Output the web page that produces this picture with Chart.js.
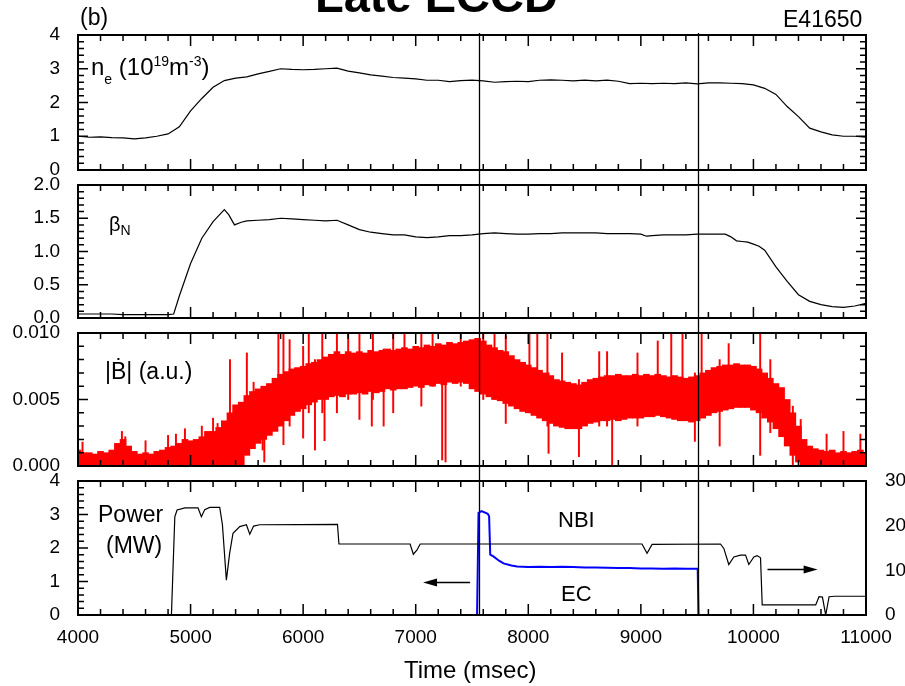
<!DOCTYPE html>
<html>
<head>
<meta charset="utf-8">
<script src="https://cdn.jsdelivr.net/npm/chart.js@4.4.1/dist/chart.umd.min.js"></script>
<style>
  html, body { margin:0; padding:0; background:#fff; }
  body { width:905px; height:686px; position:relative; overflow:hidden; font-family:'Liberation Sans', Arial, sans-serif; color:#000; }
  canvas { position:absolute; left:0; }
  .lbl { position:absolute; line-height:1; white-space:nowrap; }
  .sb, .sp { font-size:14px; position:relative; }
</style>
</head>
<body>
<canvas id="c1" width="905" height="220" style="top:0px"></canvas>
<canvas id="c2" width="905" height="218" style="top:150px"></canvas>
<canvas id="c3" width="905" height="218" style="top:298px"></canvas>
<canvas id="c4" width="905" height="240" style="top:446px"></canvas>

<div class="lbl" style="left:315px;top:-28px;font-size:47px;font-weight:bold">Late ECCD</div>
<div class="lbl" style="left:80px;top:6px;font-size:23px">(b)</div>
<div class="lbl" style="left:783px;top:8px;font-size:23px">E41650</div>
<div class="lbl" style="left:91px;top:55px;font-size:24px">n<span class="sb" style="top:9px">e</span> (10<span class="sp" style="top:-9px">19</span>m<span class="sp" style="top:-9px">-3</span>)</div>
<div class="lbl" style="left:109px;top:214px;font-size:20px">&beta;<span class="sb" style="top:4px">N</span></div>
<div class="lbl" style="left:105px;top:360px;font-size:23px;font-family:'Liberation Sans','DejaVu Sans',sans-serif">|&#x1E02;| (a.u.)</div>
<div class="lbl" style="left:98px;top:503px;font-size:23px">Power</div>
<div class="lbl" style="left:106px;top:534px;font-size:23px">(MW)</div>
<div class="lbl" style="left:558px;top:509px;font-size:22px">NBI</div>
<div class="lbl" style="left:561px;top:583px;font-size:22px">EC</div>
<div class="lbl" style="left:404px;top:658px;font-size:24px">Time (msec)</div>

<script>
// time axis
const xMin = 4000;
const xMax = 11000;
const markTimes = [7560, 9510];

// n_e (1e19 m^-3), every 100 ms from 4000
const neVal = [1.00,0.97,0.98,0.96,0.95,0.92,0.95,1.00,1.07,1.28,
  1.75,2.12,2.45,2.65,2.72,2.76,2.85,2.92,3.00,2.98,
  2.97,2.98,3.00,3.02,2.93,2.88,2.82,2.78,2.74,2.72,
  2.70,2.66,2.66,2.62,2.65,2.66,2.64,2.60,2.62,2.63,
  2.62,2.66,2.67,2.66,2.64,2.66,2.64,2.66,2.63,2.56,
  2.57,2.56,2.57,2.56,2.58,2.55,2.58,2.58,2.57,2.56,
  2.52,2.42,2.24,1.88,1.58,1.24,1.13,1.04,1.00,1.00,
  0.97];

// beta_N
const betaTime = [4000,4100,4200,4300,4400,4500,4600,4700,4800,4850,4900,5000,5100,5200,5300,5340,5390,5450,5500,
  5600,5700,5800,5900,6000,6100,6200,6300,6400,6500,6600,6700,6800,6900,7000,7100,7200,7300,7400,7500,
  7600,7700,7800,7900,8000,8100,8200,8300,8400,8500,8600,8700,8800,8900,9000,
  9050,9100,9200,9300,9400,9500,9600,9700,9750,9800,9850,9900,9950,10000,10050,10100,10200,10300,10400,10500,10600,10700,10800,10900,11000];
const betaVal = [0.06,0.06,0.06,0.06,0.05,0.05,0.05,0.05,0.05,0.06,0.33,0.82,1.20,1.45,1.63,1.55,1.40,1.44,1.46,
  1.47,1.48,1.50,1.49,1.48,1.47,1.46,1.47,1.40,1.33,1.29,1.27,1.25,1.25,1.22,1.21,1.22,1.24,1.24,1.25,
  1.27,1.28,1.27,1.26,1.26,1.27,1.27,1.28,1.28,1.28,1.28,1.27,1.27,1.27,1.26,
  1.23,1.24,1.25,1.25,1.25,1.26,1.26,1.26,1.26,1.22,1.16,1.15,1.14,1.11,1.08,1.02,0.77,0.55,0.35,0.25,0.20,0.17,0.16,0.18,0.22];

// |dB/dt| band (units of 1e-3), every 50 ms from 4000: upper and lower edge of the dense trace
const bdotHi = [1.2,1.0,1.0,0.9,1.1,1.0,1.2,1.7,2.0,1.5,
  1.1,0.9,1.0,0.9,1.1,1.2,1.4,1.5,1.7,2.0,
  1.9,2.0,2.2,2.6,2.6,2.9,3.4,4.0,4.6,4.8,
  5.3,5.6,5.8,6.0,6.2,6.6,6.9,7.1,7.3,7.4,
  7.5,7.7,7.8,8.0,8.2,8.4,8.6,8.4,8.6,8.5,
  8.6,8.5,8.7,8.6,8.7,8.8,8.7,8.8,8.9,8.8,
  9.0,8.9,9.1,9.0,9.2,9.1,9.3,9.2,9.3,9.4,
  9.5,9.6,9.4,9.1,8.9,8.7,8.6,8.3,8.0,7.8,
  7.6,7.4,7.2,7.0,6.8,6.5,6.4,6.3,6.2,6.1,
  6.3,6.5,6.6,6.7,6.8,6.8,6.9,6.8,6.8,6.9,
  6.8,6.9,6.8,6.9,6.8,6.7,6.8,6.7,6.6,6.7,
  6.8,7.0,7.2,7.4,7.5,7.6,7.6,7.7,7.6,7.6,
  7.5,7.3,7.0,6.6,6.2,5.9,5.0,4.0,3.0,2.0,
  1.5,1.3,1.2,1.1,1.2,1.0,1.1,1.0,1.1,1.2,
  1.0];
const bdotLo = [0,0,0,0,0,0,0,0,0,0,
  0,0,0,0,0,0,0,0,0,0,
  0,0,0,0,0,0,0,0,0,0.1,
  0.8,1.3,1.7,2.0,2.3,2.6,3.0,3.4,3.8,4.1,
  4.3,4.6,4.8,5.0,5.0,5.2,5.3,5.2,5.4,5.4,
  5.5,5.4,5.6,5.5,5.6,5.8,5.7,5.8,5.8,5.9,
  6.0,5.9,6.1,6.0,6.2,6.1,6.3,6.2,6.3,6.2,
  5.8,5.6,5.4,5.2,5.0,4.9,4.7,4.5,4.3,4.1,
  4.0,3.8,3.6,3.4,3.2,3.0,2.9,2.8,2.8,2.8,
  3.0,3.2,3.3,3.4,3.4,3.5,3.4,3.5,3.6,3.6,
  3.6,3.7,3.7,3.8,3.7,3.6,3.5,3.4,3.4,3.3,
  3.4,3.6,3.8,4.0,4.1,4.2,4.3,4.4,4.4,4.4,
  4.2,4.0,3.6,3.3,2.8,2.2,1.5,0.8,0.3,0,
  0,0,0,0,0,0,0,0,0,0,
  0];
// isolated spikes (units of 1e-3)
const spikeT  = [4040,4390,4420,4600,4800,4870,4950,5100,5200,5240,5350,5500,5560,5640,5655,5780,5825,5880,6000,6050,6105,6170,6190,6300,6400,6500,6610,6620,6715,6800,6900,7050,7150,7235,7265,7400,7600,7700,7800,8010,8080,8170,8180,8300,8450,8630,8700,8745,8970,9150,9270,9370,9480,9540,9700,9780,10060,10150,10350,10420,10650,10800,10950];
const spikeLo = [0,0,0,0,0,0,0,0,0,0,0,1,1.5,1.2,0.3,3,1.6,3,2.1,4,1.2,4,1.9,4,5,3.5,3.0,5,3.0,4,6,4.5,6,0.45,0.3,6,5,5,3.2,4,4,3,0.95,3,0.7,3,3,0,3,4,4,4,1.85,4,1.5,5,0.8,2.5,0,0,0,0,0];
const spikeHi = [1.8,2.6,2.2,1.9,2.3,2.4,2.8,3.0,3.6,3.2,8.0,8.5,6.3,5,5,10,10,9.5,9,10,8,10,8,10,10,10,8.5,10,8.8,10,10,10,10,9,9,10,10,10,9.8,10,10,10,7,8.5,6.5,8.6,8.6,6.5,8.5,9.4,10,10,7,10,8,9.2,10,8,4.5,3.5,2.4,2.6,2.4];

// NBI power (right axis units)
const nbiTime = [4000,4830,4860,4880,4950,5066,5096,5126,5170,5259,5283,5318,5347,5377,5437,5496,5526,5560,5615,6305,6318,6950,6979,7010,7040,9010,9055,9100,9707,9737,9781,9826,9885,9930,9959,10004,10033,10063,10078,10553,10583,10613,10642,10672,10720,11000];
const nbiVal  = [0,0,22,23.5,24,24,22,23.6,24.1,24.1,20.2,7.8,13.8,18.3,19.8,20.2,18.1,19.9,20.2,20.3,15.9,15.9,13.6,14.5,15.9,15.9,13.8,15.8,15.9,14.9,11.3,13.0,13.4,13.4,11.3,13.0,13.3,12.8,2.25,2.25,4.1,4.0,0,4.1,4.2,4.2];

// EC power (MW, left axis)
const ecTime = [4000,7545,7558,7585,7640,7652,7662,7690,7740,7780,7850,7900,8000,8100,8200,8300,8400,8500,8600,8700,8800,8900,9000,9100,9200,9300,9400,9505,9512,11000];
const ecVal  = [0,0,3.05,3.1,3.02,2.95,1.8,1.75,1.62,1.54,1.48,1.45,1.43,1.44,1.43,1.44,1.43,1.42,1.42,1.41,1.40,1.40,1.39,1.39,1.38,1.39,1.38,1.38,0,0];

// arrows pointing to the axis each trace belongs to
const arrowLeft = { from: 7483, to: 7065, y: 0.99 };
const arrowRight = { from: 10125, to: 10570, y: 10.2 };

Chart.defaults.font.family = "'Liberation Sans', Arial, sans-serif";
Chart.defaults.color = '#000';
Chart.defaults.animation = false;
Chart.defaults.plugins.legend.display = false;
Chart.defaults.plugins.tooltip.enabled = false;

const framePlugin = {
	id: 'frame',
	afterDatasetsDraw(chart, args, o) {
		const { ctx, chartArea: a, scales } = chart;
		const x = scales.x, y = scales.y;
		ctx.save();
		ctx.strokeStyle = '#000';
		ctx.lineWidth = 1.5;
		ctx.beginPath();
		for (let t = xMin; t <= xMax; t += 200) {
			const px = x.getPixelForValue(t);
			const len = t % 1000 === 0 ? 11 : 6;
			ctx.moveTo(px, a.top); ctx.lineTo(px, a.top + len);
			ctx.moveTo(px, a.bottom); ctx.lineTo(px, a.bottom - len);
		}
		const n = Math.round((y.max - y.min) / o.minor);
		for (let i = 0; i <= n; i++) {
			const py = y.getPixelForValue(y.min + i * o.minor);
			const len = i % o.every === 0 ? 10 : 6;
			ctx.moveTo(a.left, py); ctx.lineTo(a.left + len, py);
			if (o.right) { ctx.moveTo(a.right, py); ctx.lineTo(a.right - len, py); }
		}
		ctx.stroke();
		ctx.lineWidth = 1.3;
		ctx.beginPath();
		for (const t of markTimes) {
			const px = Math.round(x.getPixelForValue(t)) + 0.5;
			ctx.moveTo(px, a.top - (o.up || 0));
			ctx.lineTo(px, a.bottom + (o.down || 0));
		}
		ctx.stroke();
		ctx.lineWidth = 2;
		ctx.strokeRect(a.left, a.top, a.right - a.left, a.bottom - a.top);
		ctx.restore();
	}
};

const arrowPlugin = {
	id: 'arrows',
	afterDatasetsDraw(chart) {
		const { ctx, scales } = chart;
		const draw = (ar, ys) => {
			const x0 = scales.x.getPixelForValue(ar.from);
			const x1 = scales.x.getPixelForValue(ar.to);
			const py = Math.round(ys.getPixelForValue(ar.y)) + 0.5;
			const dir = Math.sign(x1 - x0);
			ctx.beginPath();
			ctx.moveTo(x0, py); ctx.lineTo(x1 - dir * 10, py);
			ctx.stroke();
			ctx.beginPath();
			ctx.moveTo(x1, py);
			ctx.lineTo(x1 - dir * 14, py - 4);
			ctx.lineTo(x1 - dir * 14, py + 4);
			ctx.closePath();
			ctx.fill();
		};
		ctx.save();
		ctx.strokeStyle = '#000';
		ctx.fillStyle = '#000';
		ctx.lineWidth = 1.5;
		draw(arrowLeft, scales.y);
		draw(arrowRight, scales.y2);
		ctx.restore();
	}
};

function xAxis(show) {
	const ax = {
		type: 'linear', min: xMin, max: xMax, display: show, offset: false,
		grid: { display: false }, border: { display: false },
		ticks: { stepSize: 1000, padding: 3, maxRotation: 0, autoSkip: false, font: { size: 19 }, callback: v => String(v) }
	};
	if (show) ax.afterFit = s => { s.height = 71; };
	return ax;
}

function yAxis(min, max, step, digits) {
	return {
		min: min, max: max,
		grid: { display: false }, border: { display: false },
		ticks: { stepSize: step, padding: 10, autoSkip: false, font: { size: 19 }, callback: v => v.toFixed(digits) },
		afterFit(s) { s.width = 78; }
	};
}

const linePad = { top: 35, bottom: 50, left: 0, right: 39 };

function pts(ts, vs) { return ts.map((t, i) => ({ x: t, y: vs[i] })); }

new Chart(document.getElementById('c1'), {
	type: 'line',
	data: { datasets: [{ data: neVal.map((v, i) => ({ x: xMin + 100 * i, y: v })), borderColor: '#000', borderWidth: 1.2, pointRadius: 0 }] },
	options: {
		responsive: false, layout: { padding: linePad },
		scales: { x: xAxis(false), y: yAxis(0, 4, 1, 0) },
		plugins: { frame: { minor: 0.2, every: 5, right: true, up: 2, down: 15 } }
	},
	plugins: [framePlugin]
});

new Chart(document.getElementById('c2'), {
	type: 'line',
	data: { datasets: [{ data: pts(betaTime, betaVal), borderColor: '#000', borderWidth: 1.2, pointRadius: 0 }] },
	options: {
		responsive: false, layout: { padding: linePad },
		scales: { x: xAxis(false), y: yAxis(0, 2, 0.5, 1) },
		plugins: { frame: { minor: 0.1, every: 5, right: true, up: 0, down: 15 } }
	},
	plugins: [framePlugin]
});

new Chart(document.getElementById('c3'), {
	type: 'bar',
	data: { datasets: [
		{ data: bdotHi.map((h, i) => ({ x: xMin + 50 * i, y: [bdotLo[i] / 1000, h / 1000] })), backgroundColor: '#ff0000', barThickness: 6, grouped: false, clip: 0 },
		{ data: spikeT.map((t, i) => ({ x: t, y: [spikeLo[i] / 1000, spikeHi[i] / 1000] })), backgroundColor: '#ff0000', barThickness: 1.3, grouped: false, clip: 0 }
	] },
	options: {
		responsive: false, layout: { padding: linePad },
		scales: { x: xAxis(false), y: yAxis(0, 0.01, 0.005, 3) },
		plugins: { frame: { minor: 0.001, every: 5, right: true, up: 0, down: 15 } }
	},
	plugins: [framePlugin]
});

const y2 = {
	position: 'right', min: 0, max: 30,
	grid: { display: false }, border: { display: false },
	ticks: { stepSize: 10, padding: 11, font: { size: 19 } },
	afterFit(s) { s.width = 39; }
};

new Chart(document.getElementById('c4'), {
	type: 'line',
	data: { datasets: [
		{ data: pts(nbiTime, nbiVal), yAxisID: 'y2', borderColor: '#000', borderWidth: 1.2, pointRadius: 0 },
		{ data: pts(ecTime, ecVal), yAxisID: 'y', borderColor: '#0000ff', borderWidth: 2, pointRadius: 0 }
	] },
	options: {
		responsive: false, layout: { padding: { top: 35, bottom: 0, left: 0, right: 0 } },
		scales: { x: xAxis(true), y: yAxis(0, 4, 1, 0), y2: y2 },
		plugins: { frame: { minor: 0.2, every: 5, right: false, up: 0, down: 0 } }
	},
	plugins: [framePlugin, arrowPlugin]
});
</script>
</body>
</html>
